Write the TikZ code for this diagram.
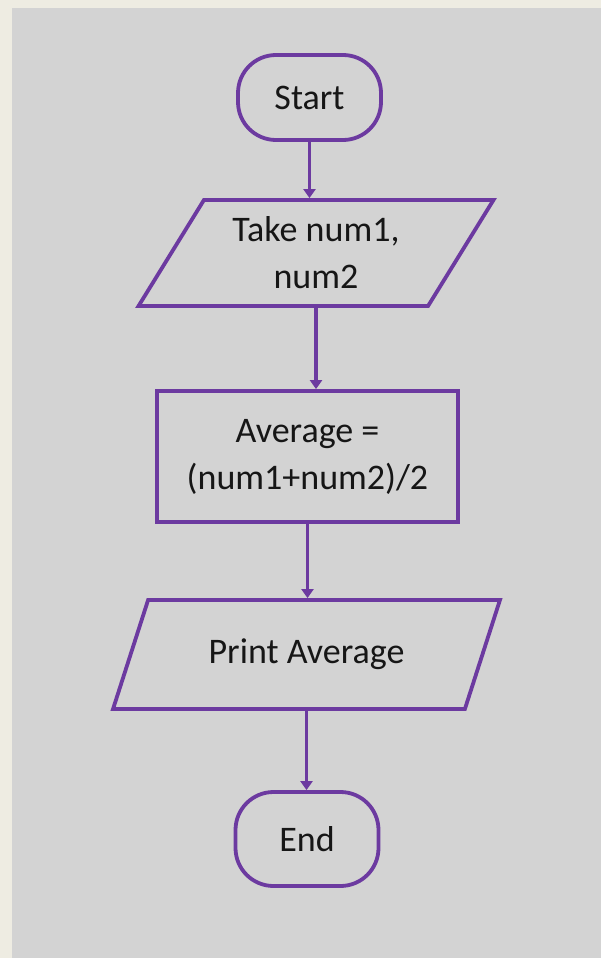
\documentclass[tikz,border=0pt]{standalone}
\usepackage{fontspec}
\setmainfont{Carlito}
\usetikzlibrary{shapes.geometric,arrows.meta}
\definecolor{flowpurple}{RGB}{108,58,160}
\definecolor{panelgrey}{RGB}{211,211,211}
\definecolor{framebeige}{RGB}{238,236,226}
\definecolor{inktext}{RGB}{22,22,22}
\begin{document}
\begin{tikzpicture}[x=1pt,y=-1pt,
  every node/.style={font=\fontsize{36}{47}\selectfont, text=inktext, align=center, line width=3.8pt, draw=flowpurple, inner sep=0pt},
  terminal/.style={rectangle, rounded corners=38pt, minimum width=143pt, minimum height=85pt},
  process/.style={rectangle, minimum width=301pt, minimum height=131pt},
  io/.style={trapezium, trapezium stretches=true},
  flow/.style={draw=flowpurple, line width=3.5pt, -{Triangle[width=12pt,length=9pt]}}]
\useasboundingbox (0,0) rectangle (601,958);
\fill[framebeige] (0,0) rectangle (601,958);
\fill[panelgrey] (11.5,8) rectangle (601,958);

\node[terminal] (start) at (309.5,97.5) {Start};
\node[io, trapezium left angle=56, trapezium right angle=124, minimum width=356pt, minimum height=106pt] (take) at (316,253) {Take num1,\\num2};
\node[process] (avg) at (307.5,456.5) {Average =\\(num1+num2)/2};
\node[io, trapezium left angle=55, trapezium right angle=125, minimum width=387pt, minimum height=109pt] (print) at (306.5,654.5) {Print Average};
\node[terminal, minimum height=94pt] (end) at (307,839) {End};

\draw[flow] (start.south) -- (start.south |- take.north);
\draw[flow] (take.south) -- (take.south |- avg.north);
\draw[flow] (avg.south) -- (avg.south |- print.north);
\draw[flow] (print.south) -- (print.south |- end.north);
\end{tikzpicture}
\end{document}
